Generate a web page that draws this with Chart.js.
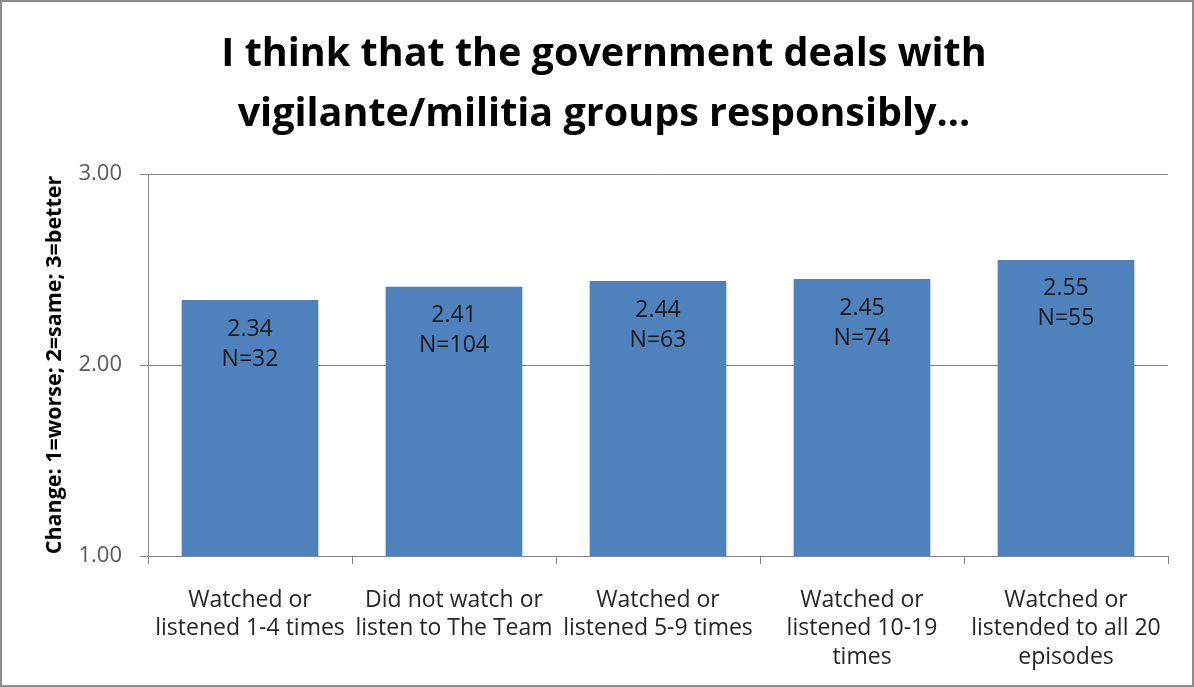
<!DOCTYPE html>
<html>
<head>
<meta charset="utf-8">
<script src="https://cdn.jsdelivr.net/npm/chart.js@4"></script>
<style>
  html, body { margin: 0; padding: 0; background: #fff; }
  #wrap { position: relative; width: 1194px; height: 687px; box-sizing: border-box; border: 2px solid #8c8c8c; }
  canvas { position: absolute; left: -2px; top: -2px; }
</style>
</head>
<body>
<div id="wrap"><canvas id="grafica" width="1194" height="687"></canvas></div>
<script>
// datos
var categorias = [
  ["Watched or", "listened 1-4 times"],
  ["Did not watch or", "listen to The Team"],
  ["Watched or", "listened 5-9 times"],
  ["Watched or", "listened 10-19", "times"],
  ["Watched or", "listended to all 20", "episodes"]
];
var medias = [2.34, 2.41, 2.44, 2.45, 2.55];
var muestras = [32, 104, 63, 74, 55];
var titulo = ["I think that the government deals with", "vigilante/militia groups responsibly..."];
var tituloEje = "Change: 1=worse; 2=same; 3=better";

var fuente = "'Open Sans', sans-serif";

// titulo centrado como en la figura
var cabecera = {
  id: "cabecera",
  afterDraw: function(chart){
    var ctx = chart.ctx;
    ctx.save();
    ctx.font = "bold 39.5px " + fuente;
    ctx.fillStyle = "#000";
    ctx.textAlign = "center";
    ctx.textBaseline = "middle";
    ctx.fillText(titulo[0], 604, 55);
    ctx.fillText(titulo[1], 604, 115);
    ctx.restore();
  }
};

// etiquetas dentro de las barras
var etiquetas = {
  id: "etiquetas",
  afterDatasetsDraw: function(chart){
    var ctx = chart.ctx;
    var meta = chart.getDatasetMeta(0);
    ctx.save();
    ctx.font = "23px " + fuente;
    ctx.fillStyle = "#1a1a1a";
    ctx.textAlign = "center";
    ctx.textBaseline = "middle";
    meta.data.forEach(function(bar, i){
      ctx.fillText(medias[i].toFixed(2), bar.x, bar.y + 29);
      ctx.fillText("N=" + muestras[i], bar.x, bar.y + 59);
    });
    ctx.restore();
  }
};

var miCanvas = document.getElementById("grafica").getContext("2d");
var chart = new Chart(miCanvas, {
  type: "bar",
  data: {
    labels: categorias,
    datasets: [{
      data: medias,
      backgroundColor: "#4F81BD",
      borderWidth: 0,
      barPercentage: 1,
      categoryPercentage: 0.67
    }]
  },
  options: {
    responsive: false,
    animation: false,
    layout: { padding: { left: 0, right: 26, top: 174, bottom: 0 } },
    plugins: {
      legend: { display: false },
      tooltip: { enabled: false },
      title: { display: false }
    },
    scales: {
      x: {
        grid: { display: true, drawOnChartArea: false, offset: true, tickLength: 8, color: "#868686" },
        border: { color: "#868686" },
        ticks: { color: "#262626", font: { family: fuente, size: 23, lineHeight: 1.24 }, padding: 22, maxRotation: 0, autoSkip: false },
        afterFit: function(s){ s.height = 131; }
      },
      y: {
        min: 1, max: 3,
        ticks: { stepSize: 1, color: "#595959", font: { family: fuente, size: 22 }, padding: 18,
          callback: function(v){ return Number(v).toFixed(2); } },
        grid: { color: "#868686", tickLength: 8 },
        border: { color: "#868686" },
        title: { display: true, text: tituloEje, color: "#000",
          font: { family: fuente, size: 21.5, weight: "bold" }, padding: { top: 42, bottom: 0 } },
        afterFit: function(s){ s.width = 148; }
      }
    }
  },
  plugins: [etiquetas, cabecera]
});
</script>
</body>
</html>
